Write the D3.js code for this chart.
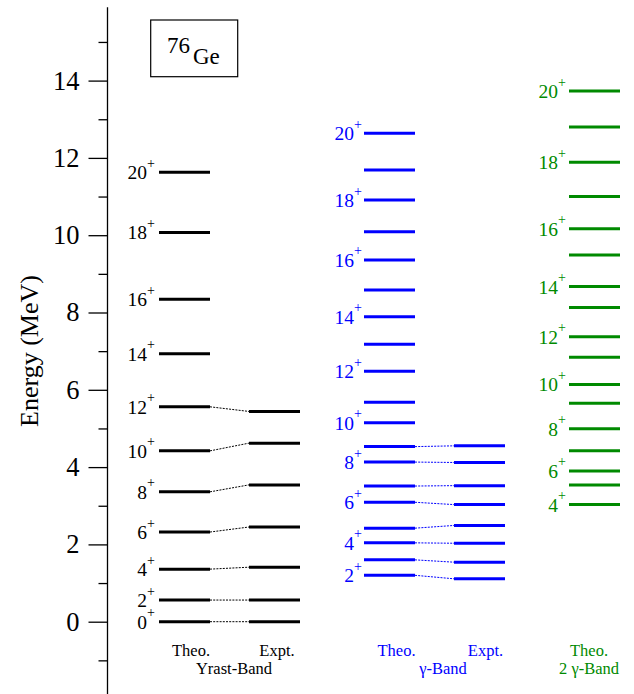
<!DOCTYPE html>
<html>
  <head>
    <title>76Ge level scheme</title>
    <script src="https://cdn.jsdelivr.net/npm/d3@7/dist/d3.min.js"></script>
    <style>
      body { margin: 0; background: #fff; }
      text { font-family: "Liberation Serif", "Times New Roman", serif; }
    </style>
  </head>
  <body>
    <svg id="svg" width="634" height="694" xmlns="http://www.w3.org/2000/svg"></svg>
    <script>
      // Level energies (MeV)
      let yrastSpins = [0, 2, 4, 6, 8, 10, 12, 14, 16, 18, 20];
      let yrastTheo = [0, 0.56, 1.36, 2.32, 3.36, 4.42, 5.56, 6.93, 8.34, 10.07, 11.63];
      let yrastExpt = [0, 0.56, 1.41, 2.45, 3.54, 4.62, 5.44];

      let gammaSpins = [2, 3, 4, 5, 6, 7, 8, 9, 10, 11, 12, 13, 14, 15, 16, 17, 18, 19, 20];
      let gammaTheo = [1.2, 1.6, 2.04, 2.42, 3.09, 3.51, 4.13, 4.53, 5.15, 5.68, 6.48, 7.18, 7.89, 8.58, 9.36, 10.09, 10.91, 11.69, 12.64];
      let gammaExpt = [1.11, 1.54, 2.03, 2.49, 3.03, 3.52, 4.12, 4.55];

      let twoGammaSpins = [4, 5, 6, 7, 8, 9, 10, 11, 12, 13, 14, 15, 16, 17, 18, 19, 20];
      let twoGammaTheo = [3.03, 3.54, 3.9, 4.42, 4.99, 5.65, 6.14, 6.84, 7.37, 8.13, 8.67, 9.49, 10.17, 11.0, 11.89, 12.8, 13.73];

      let majorTicks = [0, 2, 4, 6, 8, 10, 12, 14];
      let minorTicks = [-1, 1, 3, 5, 7, 9, 11, 13, 15];

      let svg = d3.select("svg");
      let blue = "#0000ff";
      let green = "#008a00";

      // Energy scale
      let y = d3.scaleLinear().domain([0, 14]).range([621.7, 80.6]);
      let axisX = 107.5;

      // Left edge of each column of levels
      let colX = d3.scaleOrdinal()
        .domain(["yTheo", "yExpt", "gTheo", "gExpt", "ggTheo"])
        .range([159, 249, 364, 454, 569]);
      let colW = 51;

      // Axis: minor ticks first, then labelled major ticks
      let axisG = svg.append("g").attr("transform", "translate(" + axisX + ",0)");
      axisG.append("line")
        .attr("x1", 0).attr("x2", 0)
        .attr("y1", y(15.9)).attr("y2", 694)
        .attr("stroke", "black").attr("stroke-width", 1.3);
      axisG.append("g")
        .call(d3.axisLeft(y).tickValues(minorTicks).tickSize(9).tickFormat("").tickSizeOuter(0))
        .call(g => g.select(".domain").remove())
        .selectAll("line").attr("stroke-width", 1.3);
      let major = axisG.append("g")
        .call(d3.axisLeft(y).tickValues(majorTicks).tickSize(19).tickPadding(9).tickSizeOuter(0))
        .call(g => g.select(".domain").remove());
      major.selectAll("line").attr("stroke-width", 1.3);
      major.selectAll("text")
        .attr("font-family", "Liberation Serif")
        .attr("font-size", 26.5)
        .attr("fill", "black");

      // Axis title
      svg.append("text")
        .attr("transform", "translate(38,351) rotate(-90)")
        .attr("text-anchor", "middle")
        .attr("font-size", 26)
        .text("Energy (MeV)");

      // Nucleus box
      svg.append("rect")
        .attr("x", 150.7).attr("y", 20)
        .attr("width", 87).attr("height", 56.7)
        .attr("fill", "none").attr("stroke", "black").attr("stroke-width", 1.2);
      let title = svg.append("text").attr("x", 167).attr("y", 53).attr("font-size", 23);
      title.append("tspan").text("76");
      title.append("tspan").attr("dx", 3).attr("dy", 11).text("Ge");

      // Draw one column of levels
      function drawLevels(key, energies, color) {
        svg.append("g").selectAll("line")
          .data(energies)
          .join("line")
          .attr("x1", colX(key))
          .attr("x2", colX(key) + colW)
          .attr("y1", (d) => y(d))
          .attr("y2", (d) => y(d))
          .attr("stroke", color)
          .attr("stroke-width", 3);
      }

      // Dotted links between theory and experiment levels
      function drawLinks(fromKey, toKey, theo, expt, color) {
        svg.append("g").selectAll("line")
          .data(expt)
          .join("line")
          .attr("x1", colX(fromKey) + colW)
          .attr("x2", colX(toKey))
          .attr("y1", (d, i) => y(theo[i]))
          .attr("y2", (d) => y(d))
          .attr("stroke", color)
          .attr("stroke-width", 1)
          .attr("stroke-dasharray", "2,1.2");
      }

      // Spin labels (even spins only)
      function drawSpins(key, spins, energies, color, gap) {
        let data = spins.map((s, i) => ({ s: s, e: energies[i] })).filter((d) => d.s % 2 === 0);
        let t = svg.append("g").selectAll("text")
          .data(data)
          .join("text")
          .attr("x", colX(key) - gap)
          .attr("y", (d) => y(d.e) + 7)
          .attr("text-anchor", "end")
          .attr("fill", color)
          .attr("font-size", 19.5);
        t.append("tspan").text((d) => d.s);
        t.append("tspan").attr("dy", -11.5).attr("font-size", 14).text("+");
      }

      drawLinks("yTheo", "yExpt", yrastTheo, yrastExpt, "black");
      drawLinks("gTheo", "gExpt", gammaTheo, gammaExpt, blue);
      drawLevels("yTheo", yrastTheo, "black");
      drawLevels("yExpt", yrastExpt, "black");
      drawLevels("gTheo", gammaTheo, blue);
      drawLevels("gExpt", gammaExpt, blue);
      drawLevels("ggTheo", twoGammaTheo, green);
      drawSpins("yTheo", yrastSpins, yrastTheo, "black", 4);
      drawSpins("gTheo", gammaSpins, gammaTheo, blue, 2);
      drawSpins("ggTheo", twoGammaSpins, twoGammaTheo, green, 3);

      // Column captions
      let captions = [
        { text: "Theo.", x: 191, y: 656, c: "black" },
        { text: "Expt.", x: 277, y: 656, c: "black" },
        { text: "Yrast-Band", x: 234, y: 674, c: "black" },
        { text: "Theo.", x: 396.5, y: 656, c: blue },
        { text: "Expt.", x: 485.5, y: 656, c: blue },
        { text: "γ-Band", x: 443, y: 674, c: blue },
        { text: "Theo.", x: 589, y: 656, c: green },
        { text: "2 γ-Band", x: 589, y: 674, c: green }
      ];
      svg.append("g").selectAll("text")
        .data(captions)
        .join("text")
        .attr("x", (d) => d.x)
        .attr("y", (d) => d.y)
        .attr("text-anchor", "middle")
        .attr("fill", (d) => d.c)
        .attr("font-size", 16.5)
        .text((d) => d.text);
    </script>
  </body>
</html>
